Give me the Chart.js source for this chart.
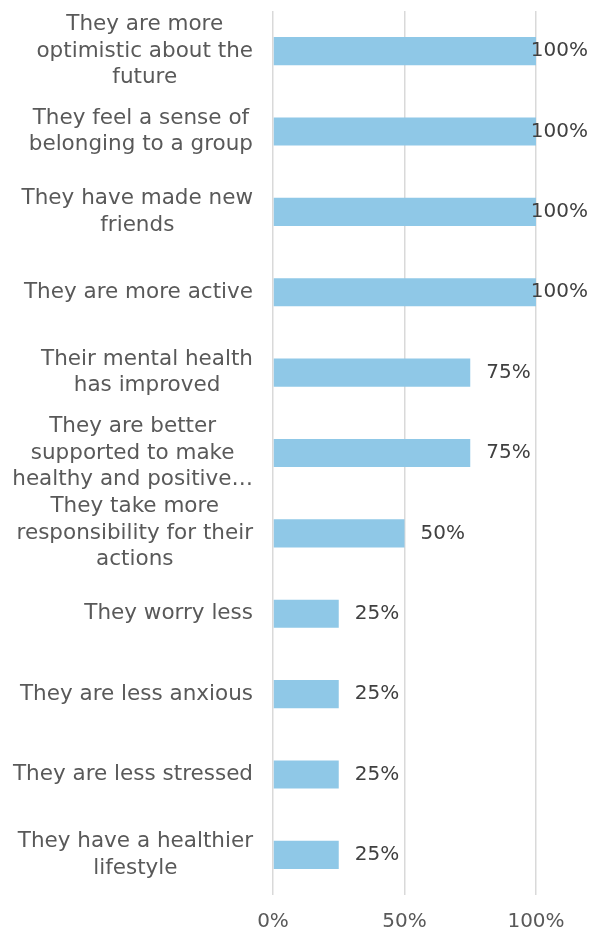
<!DOCTYPE html>
<html>
<head>
<meta charset="utf-8">
<script src="https://cdn.jsdelivr.net/npm/chart.js@4/dist/chart.umd.min.js"></script>
<style>
    html, body { margin: 0; padding: 0; background: #fff; }
    #wrap { width: 590px; height: 934px; position: relative; }
</style>
</head>
<body>
<div id="wrap"><canvas id="impactChart"></canvas></div>
<script>
// Outcomes reported, one entry per bar (lines as shown on the axis)
const categories = [
    ['They are more', 'optimistic about the', 'future'],
    ['They feel a sense of', 'belonging to a group'],
    ['They have made new', 'friends'],
    ['They are more active'],
    ['Their mental health', 'has improved'],
    ['They are better', 'supported to make', 'healthy and positive\u2026'],
    ['They take more', 'responsibility for their', 'actions'],
    ['They worry less'],
    ['They are less anxious'],
    ['They are less stressed'],
    ['They have a healthier', 'lifestyle']
];
const values = [100, 100, 100, 100, 75, 75, 50, 25, 25, 25, 25];
const tickValues = [0, 50, 100];
const tickLabels = ['0%', '50%', '100%'];

const FONT = '"DejaVu Sans", Verdana, sans-serif';

// Category labels: each block centred on itself, right edge next to the axis
const categoryLabels = {
    id: 'categoryLabels',
    afterDraw(chart) {
        const ctx = chart.ctx;
        const yScale = chart.scales.y;
        const right = chart.chartArea.left - 20;
        const lineH = 26.5;
        ctx.save();
        ctx.font = '21.5px ' + FONT;
        ctx.fillStyle = '#595959';
        ctx.textAlign = 'center';
        ctx.textBaseline = 'middle';
        categories.forEach((lines, i) => {
            const y = yScale.getPixelForValue(i);
            const maxW = Math.max(...lines.map(l => ctx.measureText(l).width));
            const cx = right - maxW / 2;
            const top = y - (lines.length - 1) * lineH / 2;
            lines.forEach((line, j) => ctx.fillText(line, cx, top + j * lineH));
        });
        ctx.restore();
    }
};

// Value labels after each bar, kept inside the canvas
const valueLabels = {
    id: 'valueLabels',
    afterDatasetsDraw(chart) {
        const ctx = chart.ctx;
        const meta = chart.getDatasetMeta(0);
        ctx.save();
        ctx.font = '20px ' + FONT;
        ctx.fillStyle = '#404040';
        ctx.textAlign = 'left';
        ctx.textBaseline = 'middle';
        meta.data.forEach((bar, i) => {
            const text = values[i] + '%';
            const w = ctx.measureText(text).width;
            const x = Math.min(bar.x + 16, chart.width - w - 2);
            ctx.fillText(text, x, bar.y);
        });
        ctx.restore();
    }
};

new Chart(document.getElementById('impactChart'), {
    type: 'bar',
    data: {
        labels: categories,
        datasets: [{
            data: values,
            backgroundColor: '#8fc8e7',
            borderWidth: 0,
            barPercentage: 0.35,
            categoryPercentage: 1
        }]
    },
    options: {
        indexAxis: 'y',
        responsive: true,
        maintainAspectRatio: false,
        animation: false,
        layout: {
            padding: { left: 273, right: 54, top: 11, bottom: 0 }
        },
        plugins: {
            legend: { display: false },
            tooltip: { enabled: false }
        },
        scales: {
            y: {
                display: false
            },
            x: {
                min: 0,
                max: 100,
                afterBuildTicks(scale) {
                    scale.ticks = tickValues.map(v => ({ value: v }));
                },
                afterFit(scale) {
                    scale.height = 39;
                },
                border: { display: false },
                grid: {
                    color: '#d9d9d9',
                    lineWidth: 1.5,
                    drawTicks: false
                },
                ticks: {
                    padding: 15,
                    color: '#595959',
                    font: { family: FONT, size: 20 },
                    callback: (v) => tickLabels[tickValues.indexOf(v)]
                }
            }
        }
    },
    plugins: [categoryLabels, valueLabels]
});
</script>
</body>
</html>
